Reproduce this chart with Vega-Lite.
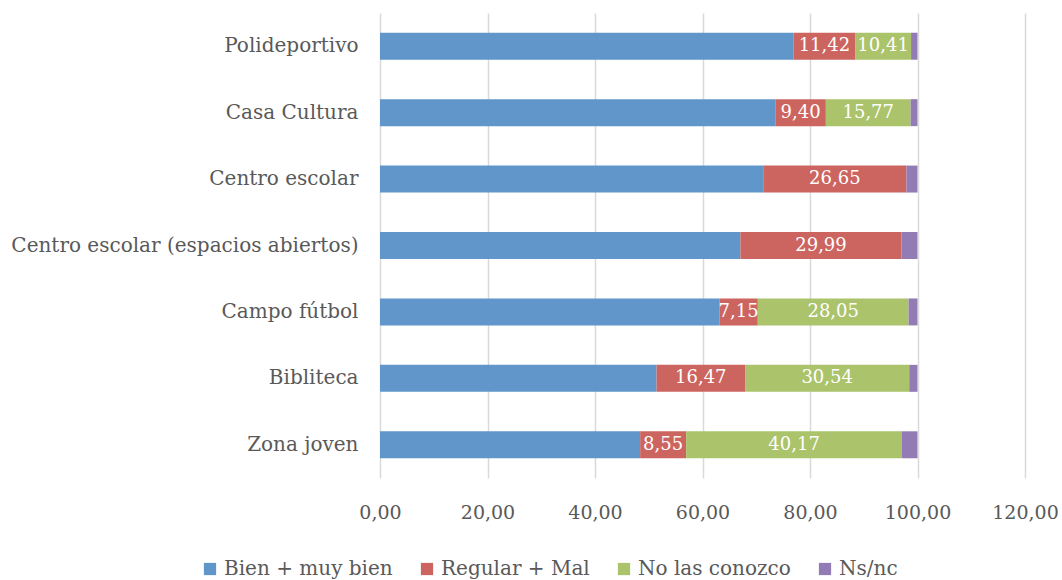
{
  "$schema": "https://vega.github.io/schema/vega-lite/v6.json",
  "autosize": "none",
  "width": 645,
  "height": 465,
  "padding": {"left": 380, "top": 13, "right": 37, "bottom": 102},
  "background": "white",
  "config": {
    "locale": {"number": {"decimal": ",", "thousands": ".", "grouping": [3], "currency": ["", " €"]}},
    "font": "DejaVu Serif",
    "view": {"stroke": null}
  },
  "data": {
    "values": [
      {"lugar": "Polideportivo", "cat": "Bien + muy bien", "valor": 76.97},
      {"lugar": "Polideportivo", "cat": "Regular + Mal", "valor": 11.42},
      {"lugar": "Polideportivo", "cat": "No las conozco", "valor": 10.41},
      {"lugar": "Polideportivo", "cat": "Ns/nc", "valor": 1.20},
      {"lugar": "Casa Cultura", "cat": "Bien + muy bien", "valor": 73.55},
      {"lugar": "Casa Cultura", "cat": "Regular + Mal", "valor": 9.40},
      {"lugar": "Casa Cultura", "cat": "No las conozco", "valor": 15.77},
      {"lugar": "Casa Cultura", "cat": "Ns/nc", "valor": 1.28},
      {"lugar": "Centro escolar", "cat": "Bien + muy bien", "valor": 71.30},
      {"lugar": "Centro escolar", "cat": "Regular + Mal", "valor": 26.65},
      {"lugar": "Centro escolar", "cat": "Ns/nc", "valor": 2.05},
      {"lugar": "Centro escolar (espacios abiertos)", "cat": "Bien + muy bien", "valor": 67.05},
      {"lugar": "Centro escolar (espacios abiertos)", "cat": "Regular + Mal", "valor": 29.99},
      {"lugar": "Centro escolar (espacios abiertos)", "cat": "Ns/nc", "valor": 2.96},
      {"lugar": "Campo fútbol", "cat": "Bien + muy bien", "valor": 63.14},
      {"lugar": "Campo fútbol", "cat": "Regular + Mal", "valor": 7.15},
      {"lugar": "Campo fútbol", "cat": "No las conozco", "valor": 28.05},
      {"lugar": "Campo fútbol", "cat": "Ns/nc", "valor": 1.66},
      {"lugar": "Bibliteca", "cat": "Bien + muy bien", "valor": 51.45},
      {"lugar": "Bibliteca", "cat": "Regular + Mal", "valor": 16.47},
      {"lugar": "Bibliteca", "cat": "No las conozco", "valor": 30.54},
      {"lugar": "Bibliteca", "cat": "Ns/nc", "valor": 1.54},
      {"lugar": "Zona joven", "cat": "Bien + muy bien", "valor": 48.40},
      {"lugar": "Zona joven", "cat": "Regular + Mal", "valor": 8.55},
      {"lugar": "Zona joven", "cat": "No las conozco", "valor": 40.17},
      {"lugar": "Zona joven", "cat": "Ns/nc", "valor": 2.88}
    ]
  },
  "transform": [
    {"calculate": "indexof(['Bien + muy bien', 'Regular + Mal', 'No las conozco', 'Ns/nc'], datum.cat)", "as": "orden"}
  ],
  "encoding": {
    "y": {
      "field": "lugar",
      "type": "nominal",
      "sort": ["Polideportivo", "Casa Cultura", "Centro escolar", "Centro escolar (espacios abiertos)", "Campo fútbol", "Bibliteca", "Zona joven"],
      "scale": {"paddingInner": 0.594, "paddingOuter": 0.297},
      "axis": {
        "title": null,
        "domain": false,
        "ticks": false,
        "labelPadding": 22,
        "labelLimit": 400,
        "labelFontSize": 20,
        "labelColor": "#595959",
        "labelFont": "DejaVu Serif"
      }
    },
    "x": {
      "field": "valor",
      "type": "quantitative",
      "stack": "zero",
      "scale": {"domain": [0, 120], "nice": false},
      "axis": {
        "title": null,
        "values": [0, 20, 40, 60, 80, 100, 120],
        "format": ".2f",
        "domain": false,
        "ticks": false,
        "grid": true,
        "gridColor": "#d9d9d9",
        "gridWidth": 1.5,
        "labelPadding": 25,
        "labelFlush": false,
        "labelOverlap": false,
        "labelBound": false,
        "labelFontSize": 19,
        "labelColor": "#595959",
        "labelFont": "DejaVu Serif"
      }
    },
    "order": {"field": "orden", "type": "quantitative"},
    "color": {
      "field": "cat",
      "type": "nominal",
      "sort": ["Bien + muy bien", "Regular + Mal", "No las conozco", "Ns/nc"],
      "scale": {
        "domain": ["Bien + muy bien", "Regular + Mal", "No las conozco", "Ns/nc"],
        "range": ["#6096C9", "#CC6560", "#ABC36B", "#937CB5"]
      },
      "legend": {
        "title": null,
        "orient": "none",
        "direction": "horizontal",
        "legendX": -180,
        "legendY": 546,
        "symbolType": "square",
        "symbolSize": 150,
        "symbolStrokeWidth": 0,
        "labelFontSize": 20,
        "labelLimit": 400,
        "labelColor": "#595959",
        "labelFont": "DejaVu Serif",
        "labelOffset": 4,
        "columnPadding": 24
      }
    }
  },
  "layer": [
    {"mark": {"type": "bar"}},
    {
      "mark": {"type": "text", "fontSize": 18, "font": "DejaVu Serif", "baseline": "middle", "align": "center"},
      "encoding": {
        "x": {"field": "valor", "type": "quantitative", "stack": "zero", "bandPosition": 0.5},
        "detail": {"field": "cat", "type": "nominal"},
        "color": {"value": "white"},
        "text": {
          "field": "valor",
          "type": "quantitative",
          "format": ".2f",
          "condition": {"test": "datum.cat === 'Bien + muy bien' || datum.cat === 'Ns/nc'", "value": ""}
        }
      }
    }
  ]
}
